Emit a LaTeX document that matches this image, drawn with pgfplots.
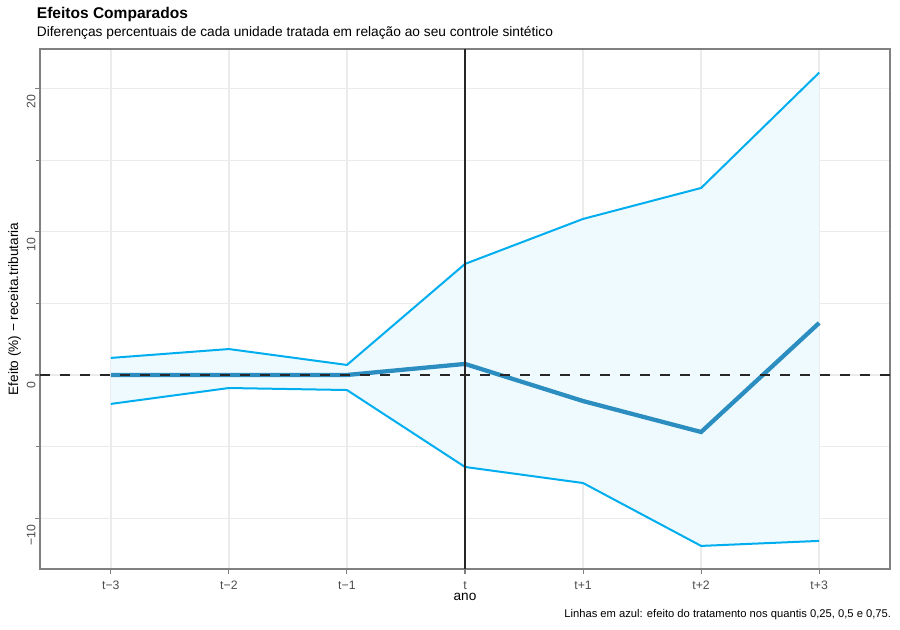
\documentclass[border=0pt]{standalone}
\usepackage{fontspec}
\setmainfont{Liberation Sans}
\usepackage{pgfplots}
\pgfplotsset{compat=1.18}
\usepgfplotslibrary{fillbetween}

\definecolor{linhaazul}{HTML}{00AEEF}
\definecolor{mediana}{HTML}{2B8DC0}
\definecolor{faixa}{HTML}{EEFAFE}
\definecolor{grade}{HTML}{EBEBEB}
\definecolor{rotulo}{HTML}{4D4D4D}
\definecolor{borda}{HTML}{808080}

% x = posicao do ano (t-3 ... t+3), sup/inf = linhas externas, med = linha central
\pgfplotstableread{
x   sup     inf     med
0   1.19   -2.02    0.00
1   1.81   -0.91    0.00
2   0.70   -1.05    0.00
3   7.75   -6.42    0.77
4  10.89   -7.54   -1.82
5  13.05  -11.93   -3.98
6  21.10  -11.58    3.63
}\efeitos

\begin{document}
\begin{tikzpicture}
\path (0,0) rectangle (675pt,472.5pt);
\begin{axis}[
  at={(30pt,45.75pt)}, anchor=south west,
  scale only axis, width=637.5pt, height=390pt,
  xmin=-0.6, xmax=6.6, ymin=-13.54, ymax=22.75,
  xtick={0,...,6},
  xticklabels={t−3,t−2,t−1,t,t+1,t+2,t+3},
  ytick={-10,0,10,20},
  yticklabels={−10,0,10,20},
  minor ytick={-5,5,15},
  xtick pos=bottom, ytick pos=left,
  tick align=outside, major tick length=3.5pt,
  every tick/.style={borda, line width=0.8pt},
  axis line style={borda, line width=0.8pt},
  grid=both,
  major grid style={grade, line width=1pt},
  minor grid style={grade, line width=0.6pt},
  ticklabel style={font=\fontsize{9.2}{10}\selectfont, text=rotulo},
  xticklabel style={anchor=base, inner sep=0pt, yshift=-12pt},
  yticklabel style={rotate=90, anchor=base east, inner sep=0pt, xshift=-4.5pt},
]
\addplot[name path=sup, draw=none, forget plot] table[x=x, y=sup] {\efeitos};
\addplot[name path=inf, draw=none, forget plot] table[x=x, y=inf] {\efeitos};
\addplot[faixa, forget plot] fill between[of=sup and inf];
\addplot[linhaazul, line width=1.5pt] table[x=x, y=sup] {\efeitos};
\addplot[linhaazul, line width=1.5pt] table[x=x, y=inf] {\efeitos};
\addplot[mediana, line width=3.2pt] table[x=x, y=med] {\efeitos};
\addplot[black!85, line width=2.1pt, dash pattern=on 7.5pt off 7.5pt] coordinates {(-0.6,0) (6.6,0)};
\addplot[black!85, line width=2.2pt] coordinates {(3,-13.54) (3,22.75)};
\end{axis}
\node[anchor=base west, inner sep=0pt, font=\fontsize{11.65}{13}\selectfont\bfseries] at (27.5pt,458.25pt) {Efeitos Comparados};
\node[anchor=base west, inner sep=0pt, font=\fontsize{10.3}{12}\selectfont] at (27.5pt,444.75pt) {Diferenças percentuais de cada unidade tratada em relação ao seu controle sintético};
\node[anchor=base, inner sep=0pt, font=\fontsize{10.2}{12}\selectfont] at (348.75pt,21.75pt) {ano};
\node[anchor=base, inner sep=0pt, rotate=90, font=\fontsize{10.2}{12}\selectfont] at (13.5pt,240.75pt) {Efeito (\%) − receita.tributaria};
\node[anchor=base east, inner sep=0pt, font=\fontsize{8.4}{10}\selectfont] at (668.5pt,9pt) {Linhas em azul: efeito do tratamento nos quantis 0,25, 0,5 e 0,75.};
\end{tikzpicture}
\end{document}
